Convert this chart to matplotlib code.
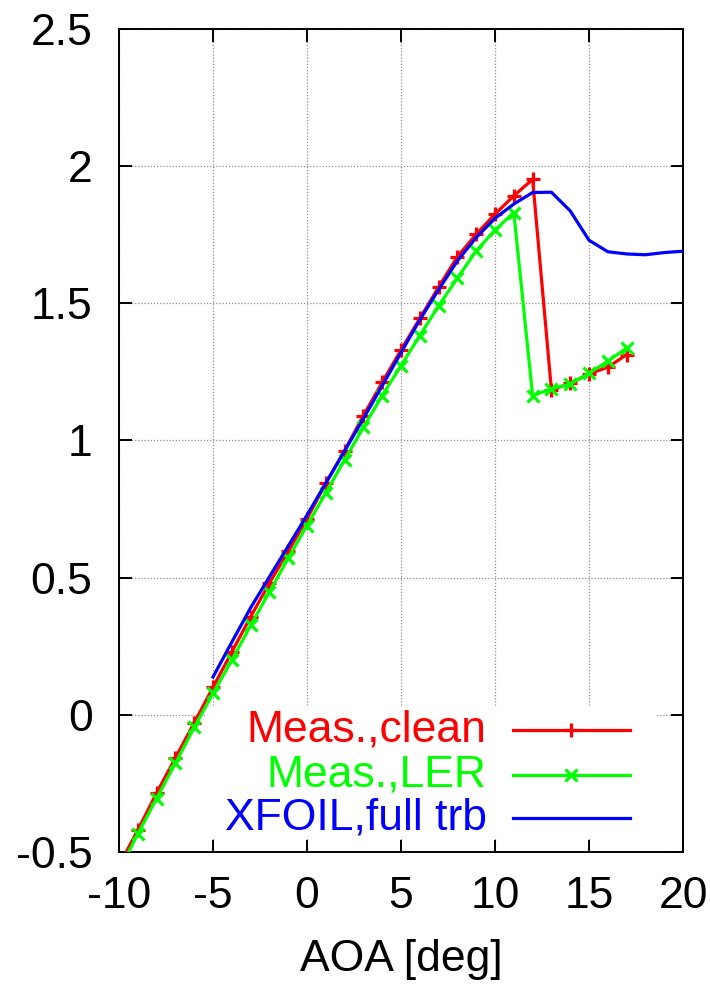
import numpy as np
import matplotlib
matplotlib.use("Agg")
from matplotlib import pyplot as plt
from matplotlib.patches import Rectangle

plt.rcParams['font.family'] = ['Liberation Sans', 'DejaVu Sans']

# measured lift curves (clean and leading edge roughness)
aoa_meas = np.arange(-10, 18)
cl_clean = [-0.55, -0.42, -0.285, -0.157, -0.029, 0.10, 0.229, 0.357, 0.48, 0.596,
            0.715, 0.844, 0.963, 1.091, 1.212, 1.330, 1.445, 1.559, 1.670, 1.752,
            1.825, 1.892, 1.952, 1.184, 1.208, 1.243, 1.267, 1.313]
cl_ler = [-0.57, -0.434, -0.305, -0.177, -0.046, 0.078, 0.199, 0.326, 0.448, 0.571,
          0.690, 0.809, 0.930, 1.048, 1.164, 1.273, 1.382, 1.491, 1.592, 1.691,
          1.767, 1.831, 1.164, 1.188, 1.206, 1.245, 1.289, 1.337]

# XFOIL, fully turbulent
aoa_xfoil = np.arange(-5, 21)
cl_xfoil = [0.138, 0.265, 0.39, 0.503, 0.615, 0.728, 0.845, 0.962, 1.08, 1.2,
            1.32, 1.44, 1.55, 1.655, 1.74, 1.81, 1.862, 1.904, 1.905, 1.837,
            1.73, 1.688, 1.68, 1.677, 1.685, 1.69]

labels = ["Meas.,clean", "Meas.,LER", "XFOIL,full trb"]
colors = ["#ff0000", "#00ff00", "#0000ff"]
markers = ["+", "x", None]

fs = 32
fig = plt.figure(figsize=(7.1, 9.86), dpi=100)
ax = fig.add_axes([0.1676, 0.1359, 0.7944, 0.8347])

ax.plot(aoa_meas, cl_clean, color=colors[0], lw=2.3, marker="+", ms=10, mew=2.3, zorder=3)
ax.plot(aoa_meas, cl_ler, color=colors[1], lw=2.3, marker="x", ms=9, mew=2.3, zorder=3)
ax.plot(aoa_xfoil, cl_xfoil, color=colors[2], lw=2.3, zorder=3)

ax.set_xlim(-10, 20)
ax.set_ylim(-0.5, 2.5)
ax.set_xticks(np.arange(-10, 21, 5))
ax.set_yticks(np.arange(-0.5, 2.51, 0.5))
ax.set_yticklabels(["-0.5", "0", "0.5", "1", "1.5", "2", "2.5"])
ax.set_xticklabels(["-10", "-5", "0", "5", "10", "15", "20"])

ax.set_axisbelow(True)
ax.grid(True, color="#909090", lw=0.9, linestyle=(0, (1, 1.5)))
ax.tick_params(direction="in", length=9, width=1.4, labelsize=fs,
               top=True, right=True, pad=19)
ax.tick_params(axis="x", pad=17)
for sp in ax.spines.values():
    sp.set_linewidth(1.4)

ax.set_xlabel("AOA [deg]", fontsize=fs, labelpad=16)

# key area hides the grid behind it
ax.add_patch(Rectangle((-5.4, -0.452), 24.0, 0.482, facecolor="white",
                       edgecolor="none", zorder=1))

# key, text right aligned with sample line to its right
rows_y = [0.148, 0.094, 0.041]
for lab, c, m, yy in zip(labels, colors, markers, rows_y):
    ax.text(0.652, yy, lab, color=c, fontsize=fs, ha="right", va="center",
            transform=ax.transAxes, zorder=4)
    ax.plot([0.698, 0.906], [yy, yy], color=c, lw=2.3, transform=ax.transAxes, zorder=4)
    if m is not None:
        ax.plot([0.802], [yy], color=c, marker=m, ms=10 if m == "+" else 9, mew=2.3,
                transform=ax.transAxes, zorder=4)

fig.savefig("out.png", dpi=100)
